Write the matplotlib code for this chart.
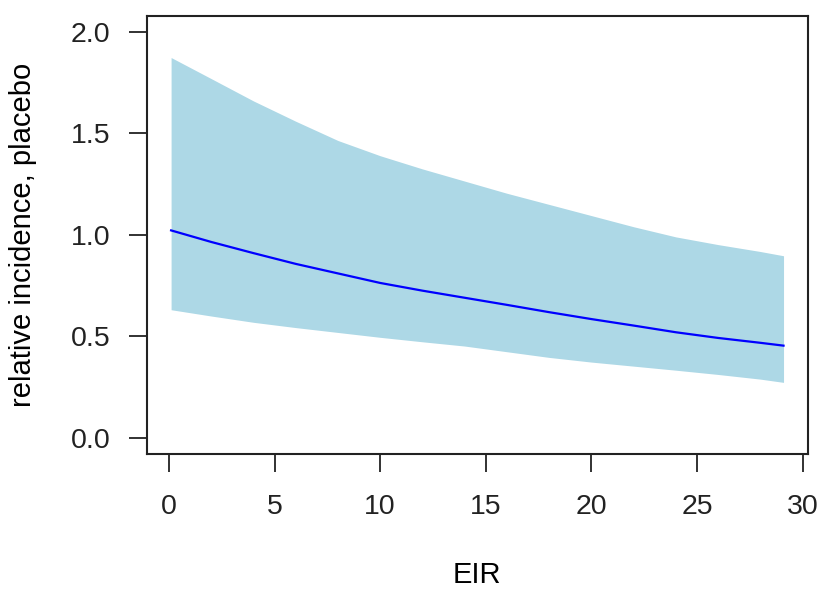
import matplotlib
matplotlib.use("Agg")
import matplotlib.pyplot as plt
import numpy as np

eir = [0.1, 2, 4, 6, 8, 10, 12, 14, 16, 18, 20, 22, 24, 26, 28, 29.1]
rel_mean = [1.022, 0.965, 0.91, 0.857, 0.81, 0.763, 0.725, 0.69, 0.655, 0.619,
            0.585, 0.553, 0.52, 0.492, 0.468, 0.454]
rel_upper = [1.874, 1.77, 1.66, 1.56, 1.465, 1.39, 1.325, 1.265, 1.205, 1.15,
             1.095, 1.04, 0.99, 0.952, 0.918, 0.897]
rel_lower = [0.631, 0.6, 0.569, 0.543, 0.519, 0.495, 0.473, 0.452, 0.424, 0.396,
             0.373, 0.353, 0.333, 0.312, 0.289, 0.273]
xticks = [0, 5, 10, 15, 20, 25, 30]
yticks = [0.0, 0.5, 1.0, 1.5, 2.0]

plt.rcParams['font.family'] = ['Liberation Sans', 'DejaVu Sans']

fig = plt.figure(figsize=(8.19, 5.93), dpi=100)
ax = fig.add_axes([0.179, 0.2344, 0.9866 - 0.179, 0.9735 - 0.2344])

ax.fill_between(eir, rel_lower, rel_upper, color='#ADD8E6', linewidth=0)
ax.plot(eir, rel_mean, color='#0000FF', linewidth=1.6)

ax.set_xlim(-1.06, 30.26)
ax.set_ylim(-0.08, 2.08)
ax.set_xticks(xticks)
ax.set_xticklabels([str(t) for t in xticks])
ax.set_yticks(yticks)
ax.set_yticklabels([f"{t:.1f}" for t in yticks])
ax.tick_params(axis='both', direction='out', length=13, width=1.3,
               labelsize=20.5, colors='#222222')
ax.tick_params(axis='x', pad=16)
ax.tick_params(axis='y', pad=13)
for s in ax.spines.values():
    s.set_linewidth(1.5)
    s.set_color('#222222')

ax.set_xlabel('EIR', fontsize=21, labelpad=29)
ax.set_ylabel('relative incidence, placebo', fontsize=21, labelpad=24)

fig.savefig('out.png', dpi=100)
